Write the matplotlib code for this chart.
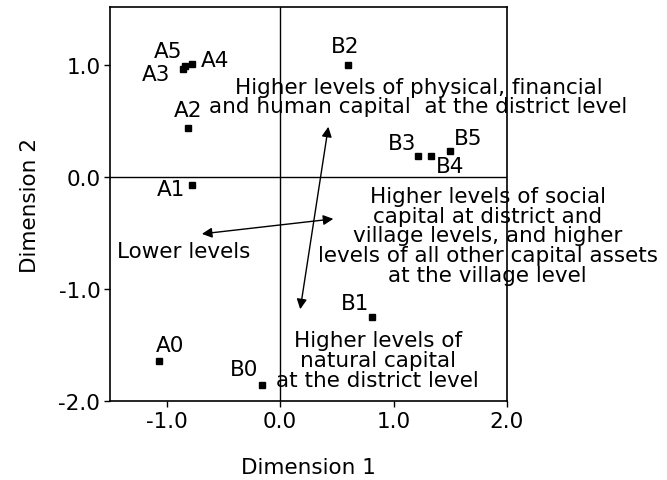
import matplotlib
matplotlib.use("Agg")
import matplotlib.pyplot as plt

plt.rcParams['font.family'] = ['DejaVu Sans']

# --- data ---
labels = ["A0", "A1", "A2", "A3", "A4", "A5", "B0", "B1", "B2", "B3", "B4", "B5"]
dim1 = [-1.07, -0.78, -0.81, -0.86, -0.78, -0.84, -0.16, 0.81, 0.60, 1.22, 1.33, 1.50]
dim2 = [-1.64, -0.07, 0.44, 0.97, 1.01, 0.99, -1.86, -1.25, 1.00, 0.19, 0.19, 0.23]
# label offsets in points (dx, dy)
label_off = {
    "A0": (8, 11.5), "A1": (-15, -3), "A2": (0, 13), "A3": (-19, -4), "A4": (17, 3),
    "A5": (-12, 11), "B0": (-13, 11.5), "B1": (-12, 10), "B2": (-2, 14),
    "B3": (-12, 9), "B4": (14, -7), "B5": (13, 10),
}

# double-headed arrows (tail, head)
arrow_h = [(-0.69, -0.507), (0.469, -0.373)]
arrow_v = [(0.425, 0.45), (0.177, -1.18)]

# (text, x, y, linespacing)
notes = [
    ("Higher levels of physical, financial\nand human capital  at the district level", 1.22, 0.72, 0.9),
    ("Higher levels of social\ncapital at district and\nvillage levels, and higher\n"
     "levels of all other capital assets\nat the village level", 1.83, -0.52, 0.98),
    ("Lower levels", -0.85, -0.66, 1.0),
    ("Higher levels of\nnatural capital\nat the district level", 0.86, -1.635, 1.0),
]

FS = 15.5

fig = plt.figure(figsize=(6.67, 4.81), dpi=100)
ax = fig.add_axes([0.165, 0.1642, 0.595, 0.8192])

ax.axhline(0, color="black", lw=1.0, zorder=1)
ax.axvline(0, color="black", lw=1.0, zorder=1)

ax.plot(dim1, dim2, "s", color="black", ms=4.5, zorder=3)
for lab, x, y in zip(labels, dim1, dim2):
    dx, dy = label_off[lab]
    ax.annotate(lab, (x, y), xytext=(dx, dy), textcoords="offset points",
                ha="center", va="center", fontsize=FS)

for a in (arrow_h, arrow_v):
    ax.annotate("", xy=a[1], xytext=a[0],
                arrowprops=dict(arrowstyle="<|-|>", color="black", lw=1.0,
                                mutation_scale=15, shrinkA=0, shrinkB=0))

for txt, x, y, ls in notes:
    ax.text(x, y, txt, ha="center", va="center", fontsize=FS,
            linespacing=ls, clip_on=False, zorder=4)

ax.set_xlim(-1.5, 2.0)
ax.set_ylim(-2.0, 1.52)
ax.set_xticks([-1.0, 0.0, 1.0, 2.0])
ax.set_yticks([-2.0, -1.0, 0.0, 1.0])
ax.set_xticklabels(["-1.0", "0.0", "1.0", "2.0"])
ax.set_yticklabels(["-2.0", "-1.0", "0.0", "1.0"])
ax.tick_params(direction="out", length=4, width=1, labelsize=FS, colors="black", pad=3)
for s in ax.spines.values():
    s.set_linewidth(1.2)

ax.set_xlabel("Dimension 1", fontsize=FS, labelpad=19)
ax.set_ylabel("Dimension 2", fontsize=FS, labelpad=13)

fig.savefig("out.png", dpi=100)
